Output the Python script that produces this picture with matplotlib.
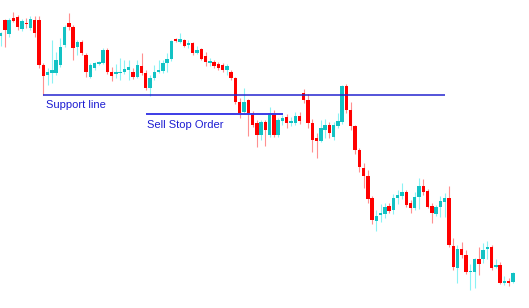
import matplotlib
matplotlib.use("Agg")
import matplotlib.pyplot as plt
import numpy as np

# OHLC price data (arbitrary price units), one entry per candle
open_ = [264, 280, 266, 282, 283, 271, 277.5, 272, 280, 280,
         235, 225, 227, 227, 235, 255, 277, 273, 253, 258,
         245, 223, 232, 236.5, 237, 250, 228, 226.5, 227.5, 228,
         230, 228, 223, 234, 227, 212, 222, 228.5, 229, 237,
         241, 261, 258, 260, 255, 257, 247, 251, 244, 237,
         238, 236, 235, 230, 228, 222, 198, 188, 200, 187,
         177, 165, 178, 165, 187, 165, 179, 183, 177, 177,
         184, 207, 200, 177, 162, 159, 170, 175, 163, 174,
         178, 214, 190, 174, 150, 132, 124, 102, 79, 85,
         86, 94, 90, 102, 104, 108, 97, 92, 103, 114,
         109, 94, 86, 93, 98, 102, 54, 32, 51, 45,
         28, 28, 41, 41, 51, 53, 33, 35, 17, 19, 18]
high = [268, 281, 282, 288, 285, 281, 282, 284, 284, 284,
        237, 232, 260, 248, 262, 275, 287, 275, 260, 260,
        247, 237, 238, 239, 252, 252, 233, 236, 242, 240,
        240, 232, 240, 247, 230, 225, 235, 240, 240, 247,
        260, 262, 267, 261, 260, 258, 254, 252, 248, 242,
        240, 238, 237, 236, 230, 223, 202, 212, 201, 189,
        180, 180, 180, 193, 190, 182, 185, 186, 183, 188,
        188, 211, 206, 181, 167, 180, 181, 178, 178, 187,
        215, 216, 198, 175, 152, 137, 130, 104, 90, 96,
        97, 97, 106, 110, 117, 110, 100, 108, 122, 121,
        111, 97, 95, 104, 107, 114, 62, 55, 58, 50,
        36, 42, 53, 57, 59, 55, 41, 38, 24, 22, 28]
low = [254, 253, 263, 278, 270, 269, 272, 270, 263, 232,
       205, 215, 217, 225, 233, 253, 270, 240, 245, 245,
       223, 222, 230, 235, 236, 226, 219, 222, 220, 226,
       220, 221, 222, 225, 210, 204, 220, 227, 227, 228,
       239, 258, 257, 253, 252, 245, 246, 240, 234, 234,
       232, 230, 228, 225, 220, 196, 182, 187, 164, 173,
       153, 160, 154, 163, 163, 163, 175, 172, 174, 175,
       176, 197, 172, 148, 142, 158, 162, 162, 160, 172,
       176, 187, 170, 146, 128, 112, 97, 76, 69, 78,
       82, 87, 86, 96, 101, 93, 87, 90, 91, 105,
       92, 77, 84, 83, 83, 53, 30, 17, 42, 26,
       10, 12, 25, 37, 41, 30, 32, 16, 15, 14, 17]
close = [267, 270, 280, 279, 273, 279, 276, 281, 267, 235,
         224, 228, 230, 240, 253, 273, 273, 252, 258, 247,
         228, 235, 237, 238, 250, 228, 224, 228, 228, 231,
         233, 223, 235, 227, 212, 222, 228, 230.5, 237, 241,
         259, 259, 261, 254, 257, 247, 250, 241, 238, 239,
         234, 232, 230, 234, 222, 198, 187, 198, 187, 175,
         165, 178, 170, 187, 165, 180, 182, 177, 179, 184,
         179, 200, 177, 160, 159, 172, 175, 167, 175, 179,
         214, 190, 174, 150, 133, 124, 101, 80, 84, 87,
         93, 89, 102, 105, 108, 95, 92, 103, 114, 108,
         93, 87, 93, 99, 102, 55, 33, 51, 45, 28,
         29, 41, 36, 50, 53, 32, 35, 17, 19, 17, 27]

support_level = 205.3
support_from, support_to = 9.93, 104.1
sell_stop_level = 186.5
sell_stop_from, sell_stop_to = 34.05, 66.1

BULL_BODY = "#12c2c4"
BULL_WICK = "#8af2f4"
BEAR_BODY = "#ff0000"
BEAR_WICK = "#ff9090"
LINE_BLUE = "#2424d0"
TEXT_BLUE = "#1c1cd2"

fig = plt.figure(figsize=(5.29, 3.08), dpi=100)
ax = fig.add_axes([0, 0, 1, 1])
ax.set_axis_off()

n = len(open_)
x = np.arange(n)
o = np.array(open_, dtype=float)
c = np.array(close, dtype=float)
h = np.array(high, dtype=float)
l = np.array(low, dtype=float)
bull = c >= o

wick_cols = [BULL_WICK if b else BEAR_WICK for b in bull]
body_cols = [BULL_BODY if b else BEAR_BODY for b in bull]

ax.vlines(x, l, h, colors=wick_cols, linewidth=0.8, zorder=2)
bottom = np.minimum(o, c)
height = np.maximum(np.abs(c - o), 1.0)
ax.bar(x, height, bottom=bottom, width=0.8, color=body_cols,
       linewidth=0, zorder=3)

ax.hlines(support_level, support_from, support_to, colors=LINE_BLUE,
          linewidth=1.1, zorder=4)
ax.hlines(sell_stop_level, sell_stop_from, sell_stop_to, colors="#3c3ce6",
          linewidth=1.4, zorder=4)

ax.text(10.6, 192, "Support line", color=TEXT_BLUE, fontsize=8,
        family="Liberation Sans", ha="left", va="baseline")
ax.text(34.4, 172, "Sell Stop Order", color=TEXT_BLUE, fontsize=8,
        family="Liberation Sans", ha="left", va="baseline")

ax.set_xlim(-0.6 / 4.27, (529 - 0.6) / 4.27)
ax.set_ylim(-8, 300)

fig.savefig("out.png", dpi=100, facecolor="white")
